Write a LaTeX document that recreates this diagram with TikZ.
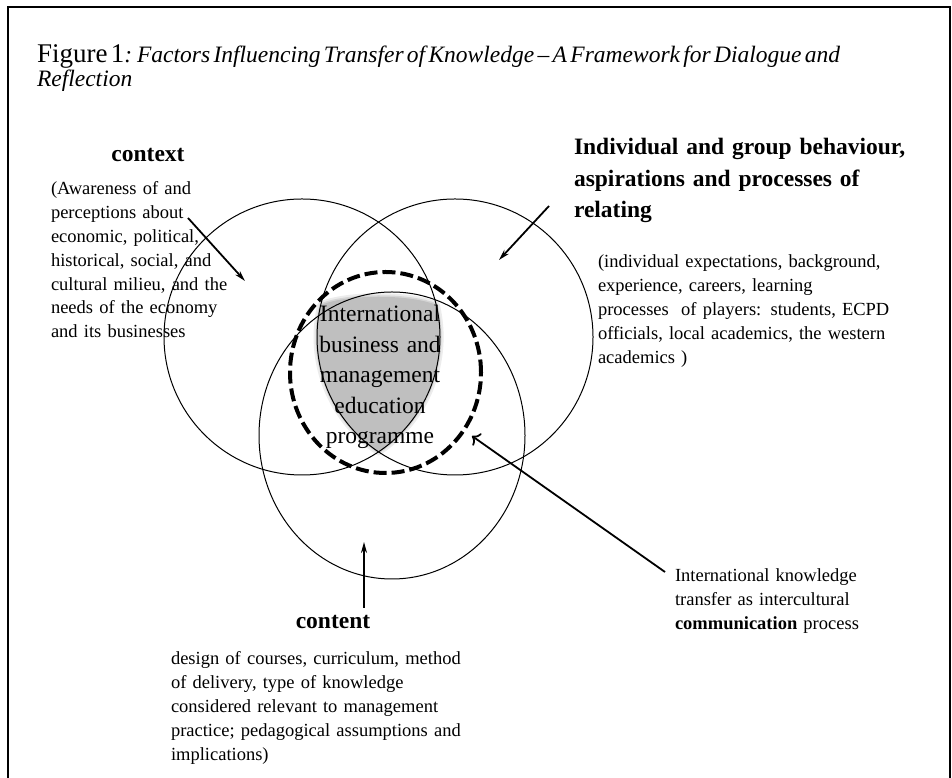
\documentclass[tikz,border=0pt]{standalone}
\usepackage{fontspec}
\setmainfont{Liberation Serif}
\usetikzlibrary{arrows.meta}

\newcommand{\bodyfont}{\fontsize{18.5}{23.8}\selectfont}
\newcommand{\headfont}{\fontsize{23.5}{31.5}\selectfont\bfseries}
% lens shared by the two upper circles, cut flat at the top
\newcommand{\corepath}{(320.8,473) arc[start angle=166.6, end angle=236.35, radius=138]
  arc[start angle=-56.35, end angle=13.4, radius=138]
  .. controls (410,484) and (347,484) .. (320.8,473) -- cycle}

\begin{document}
\begin{tikzpicture}[x=1pt, y=1pt,
  every node/.style={inner sep=0pt, outer sep=0pt},
  para/.style={anchor=base west, align=left, text width=#1, font=\bodyfont},
  head/.style={anchor=base west, align=left, text width=#1, font=\headfont},
  ring/.style={line width=1pt},
  pointer/.style={-{Stealth[length=11pt,width=6pt]}, line width=1.8pt},
  opener/.style={-{To[length=7pt,width=15pt]}, line width=1.8pt}]

\useasboundingbox (0,0) rectangle (952,778);
\draw[line width=2pt] (8,0) -- (8,771) -- (950,771) -- (950,0);

% shaded core with a soft rim
\fill[black!25] \corepath;
\draw[black!25, line width=7pt, opacity=0.3, line join=round] \corepath;
\draw[black!25, line width=3pt, opacity=0.5, line join=round] \corepath;

% the three overlapping circles and the dashed programme ring
\draw[ring] (302,441) circle[radius=138];
\draw[ring] (455,441) circle[radius=138];
\draw[ring] (392,342.5) ellipse[x radius=133, y radius=143.5];
\draw[line width=4pt, dash pattern=on 13pt off 5pt] (385.5,405.5) ellipse[x radius=95.5, y radius=100.5];

\node[anchor=base west, align=left, text width=900] (title) at (37,715)
  {{\fontsize{27}{31}\selectfont Figure 1}\fontsize{23.5}{31}\selectfont\itshape: Factors Influencing Transfer of Knowledge -- A Framework for Dialogue and\\ Reflection};

\node[head=100, align=center, anchor=base] (ctxhead) at (148,616) {context};
\node[para=220] (ctxtext) at (51,583)
  {(Awareness of and\\ perceptions about\\ economic, political,\\ historical, social, and\\ cultural milieu, and the\\ needs of the economy\\ and its businesses};

\node[head=370] (relhead) at (574,623)
  {Individual and group behaviour,\\ aspirations and processes of\\ relating};
\node[para=330] (reltext) at (598,510)
  {(individual expectations, background,\\ experience, careers, learning\\ processes~ of players: students, ECPD\\ officials, local academics, the western\\ academics )};

\node[head=100, align=center, anchor=base] (conhead) at (333,149) {content};
\node[para=320] (context) at (171,113)
  {design of courses, curriculum, method\\ of delivery, type of knowledge\\ considered relevant to management\\ practice; pedagogical assumptions and\\ implications)};

\node[para=240] (commtext) at (675,196)
  {International knowledge\\ transfer as intercultural\\ \textbf{communication} process};

\node[anchor=base, align=center, text width=160, font=\fontsize{23.5}{30.5}\selectfont] (core) at (380,456.3)
  {International\\ business and\\ management\\ education\\ programme};

% pointers into the circles
\coordinate (ctxfrom) at (188,560);
\coordinate (ctxto)   at (245,497);
\coordinate (relfrom) at (549,572);
\coordinate (relto)   at (499,518);
\coordinate (confrom) at (364,170);
\coordinate (conto)   at (364,236);
\coordinate (commfrom) at (665,206);
\coordinate (commto)   at (472,342);

\draw[pointer] (ctxfrom) -- (ctxto);
\draw[pointer] (relfrom) -- (relto);
\draw[pointer] (confrom) -- (conto);
\draw[opener]  (commfrom) -- (commto);
\end{tikzpicture}
\end{document}
